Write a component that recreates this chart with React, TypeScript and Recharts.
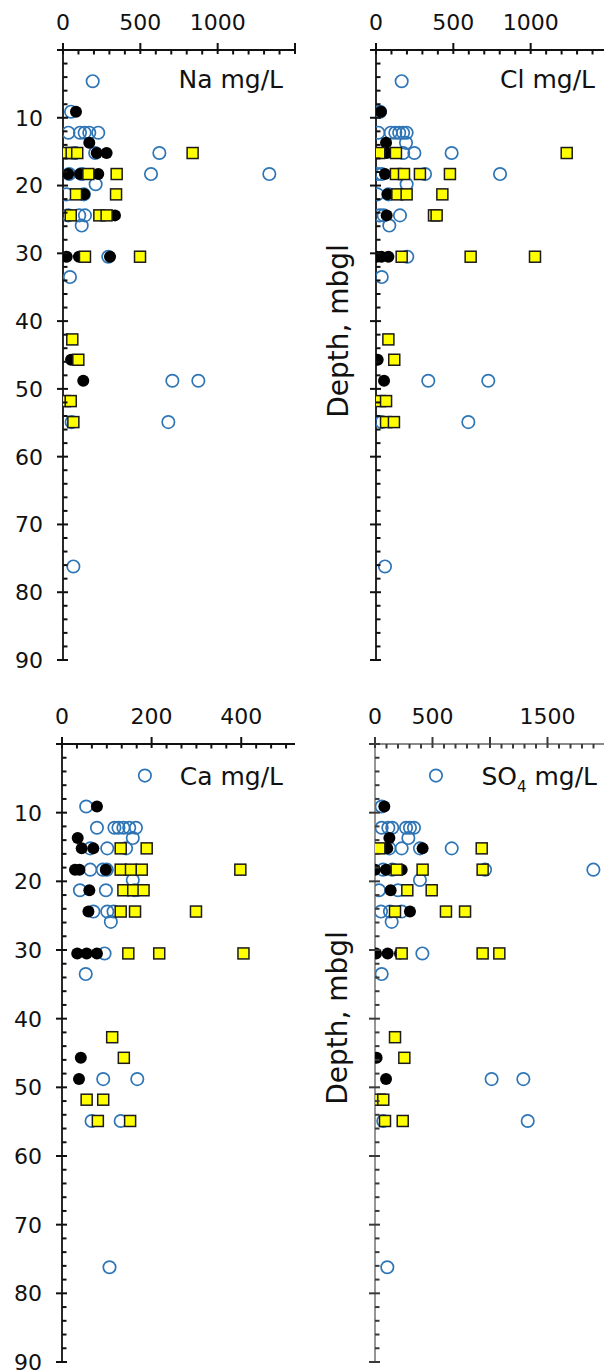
import React from "react";
import { ScatterChart, Scatter, XAxis, YAxis } from "recharts";

const FONT = "'DejaVu Sans', 'Liberation Sans', sans-serif";
const BLUE = "#2e75b6";
const YELLOW = "#ffff00";
const INK = "#111111";

type Pt = [number, number]; // [concentration mg/L, depth m]

// Na
const NA_OPEN: Pt[] = [
  [192, 4.6], [52, 9.1], [35, 12.2], [110, 12.2], [140, 12.2], [170, 12.2], [228, 12.2],
  [78, 15.2], [208, 15.2], [623, 15.2], [40, 18.3], [120, 18.3], [569, 18.3], [1334, 18.3],
  [211, 19.8], [24, 21.3], [135, 21.3], [34, 24.4], [105, 24.4], [142, 24.4], [121, 25.9],
  [293, 30.5], [45, 33.5], [707, 48.8], [875, 48.8], [56, 54.9], [681, 54.9], [67, 76.2],
];
const NA_SOLID: Pt[] = [
  [84, 9.1], [170, 13.7], [218, 15.2], [282, 15.2], [34, 18.3], [110, 18.3], [228, 18.3],
  [138, 21.3], [336, 24.4], [24, 30.5], [103, 30.5], [304, 30.5], [52, 45.7], [131, 48.8],
];
const NA_SQUARE: Pt[] = [
  [19, 15.2], [56, 15.2], [92, 15.2], [838, 15.2], [164, 18.3], [347, 18.3], [84, 21.3],
  [343, 21.3], [50, 24.4], [235, 24.4], [282, 24.4], [142, 30.5], [498, 30.5], [60, 42.7],
  [99, 45.7], [13, 51.8], [50, 51.8], [67, 54.9],
];

// Cl
const CL_OPEN: Pt[] = [
  [166, 4.6], [26, 9.1], [15, 12.2], [95, 12.2], [125, 12.2], [150, 12.2], [175, 12.2],
  [198, 12.2], [194, 13.7], [176, 15.2], [248, 15.2], [489, 15.2], [9, 18.3], [37, 18.3],
  [317, 18.3], [802, 18.3], [198, 19.8], [9, 21.3], [80, 21.3], [26, 24.4], [50, 24.4],
  [155, 24.4], [86, 25.9], [202, 30.5], [37, 33.5], [338, 48.8], [726, 48.8], [37, 54.9],
  [597, 54.9], [58, 76.2],
];
const CL_SOLID: Pt[] = [
  [32, 9.1], [65, 13.7], [69, 15.2], [58, 18.3], [75, 21.3], [69, 24.4], [5, 30.5],
  [35, 30.5], [80, 30.5], [11, 45.7], [52, 48.8],
];
const CL_SQUARE: Pt[] = [
  [21, 15.2], [129, 15.2], [1233, 15.2], [129, 18.3], [181, 18.3], [284, 18.3], [478, 18.3],
  [138, 21.3], [198, 21.3], [429, 21.3], [375, 24.4], [392, 24.4], [166, 30.5], [612, 30.5],
  [1028, 30.5], [80, 42.7], [118, 45.7], [26, 51.8], [65, 51.8], [65, 54.9], [116, 54.9],
];

// Ca
const CA_OPEN: Pt[] = [
  [185, 4.6], [54, 9.1], [78, 12.2], [117, 12.2], [126, 12.2], [137, 12.2], [150, 12.2],
  [165, 12.2], [158, 13.7], [63, 15.2], [101, 15.2], [143, 15.2], [63, 18.3], [91, 18.3],
  [100, 18.3], [158, 19.8], [40, 21.3], [98, 21.3], [162, 21.3], [70, 24.4], [101, 24.4],
  [115, 24.4], [109, 25.9], [95, 30.5], [53, 33.5], [92, 48.8], [168, 48.8], [66, 54.9],
  [131, 54.9], [106, 76.2],
];
const CA_SOLID: Pt[] = [
  [78, 9.1], [35, 13.7], [44, 15.2], [70, 15.2], [29, 18.3], [39, 18.3], [98, 18.3],
  [61, 21.3], [59, 24.4], [34, 30.5], [55, 30.5], [78, 30.5], [42, 45.7], [38, 48.8],
];
const CA_SQUARE: Pt[] = [
  [131, 15.2], [189, 15.2], [131, 18.3], [154, 18.3], [178, 18.3], [398, 18.3], [137, 21.3],
  [159, 21.3], [182, 21.3], [131, 24.4], [163, 24.4], [299, 24.4], [148, 30.5], [217, 30.5],
  [405, 30.5], [112, 42.7], [138, 45.7], [55, 51.8], [92, 51.8], [80, 54.9], [152, 54.9],
];

// SO4
const SO4_OPEN: Pt[] = [
  [530, 4.6], [58, 9.1], [58, 12.2], [116, 12.2], [150, 12.2], [270, 12.2], [304, 12.2],
  [339, 12.2], [290, 13.7], [125, 15.2], [232, 15.2], [391, 15.2], [667, 15.2], [70, 18.3],
  [150, 18.3], [957, 18.3], [1899, 18.3], [391, 19.8], [35, 21.3], [200, 21.3], [52, 24.4],
  [130, 24.4], [232, 24.4], [145, 25.9], [412, 30.5], [58, 33.5], [1014, 48.8], [1290, 48.8],
  [72, 54.9], [1328, 54.9], [107, 76.2],
];
const SO4_SOLID: Pt[] = [
  [81, 9.1], [125, 13.7], [107, 15.2], [414, 15.2], [0, 18.3], [96, 18.3], [232, 18.3],
  [136, 21.3], [304, 24.4], [9, 30.5], [110, 30.5], [217, 30.5], [14, 45.7], [96, 48.8],
];
const SO4_SQUARE: Pt[] = [
  [38, 15.2], [928, 15.2], [188, 18.3], [414, 18.3], [936, 18.3], [281, 21.3], [493, 21.3],
  [174, 24.4], [617, 24.4], [783, 24.4], [232, 30.5], [936, 30.5], [1081, 30.5], [174, 42.7],
  [255, 45.7], [43, 51.8], [72, 51.8], [87, 54.9], [241, 54.9],
];

// axis ticks
const DEPTH_MAJOR = [0, 10, 20, 30, 40, 50, 60, 70, 80, 90];
const DEPTH_LABELS = [10, 20, 30, 40, 50, 60, 70, 80, 90];
const NA_MAJOR = [0, 500, 1000, 1500];
const NA_LABELS = [0, 500, 1000];
const CL_MAJOR = [0, 500, 1000, 1500];
const CL_LABELS = [0, 500, 1000];
const CA_MAJOR = [0, 200, 400];
const CA_LABELS = [0, 200, 400];
const SO4_MAJOR = [0, 500, 1000, 1500, 2000];
const SO4_LABELS = [0, 500, 1500];

const steps = (max: number, step: number) =>
  Array.from({ length: Math.floor(max / step + 1e-6) + 1 }, (_, i) => +(i * step).toFixed(4));

const isIn = (list: number[], v: number) => list.some((m) => Math.abs(m - v) < 1e-3);

const rows = (pts: Pt[]) => pts.map(([v, d]) => ({ v, d }));

const OpenDot = (p: any) => (
  <circle cx={p.cx} cy={p.cy} r={6.2} fill="none" stroke={BLUE} strokeWidth={1.7} />
);
const SolidDot = (p: any) => <circle cx={p.cx} cy={p.cy} r={6} fill="#000" />;
const SquareDot = (p: any) => (
  <rect x={p.cx - 5.5} y={p.cy - 5.5} width={11} height={11} fill={YELLOW} stroke="#1a1a1a" strokeWidth={1.5} />
);

// major ticks cross the axis line, minor ticks point into the plot
const makeXTick = (majors: number[], labels: number[], color: string) => (props: any) => {
  const x = Number(props.x);
  const y = Number(props.y);
  const v = props.payload.value;
  const major = isIn(majors, v);
  return (
    <g>
      <path
        d={major ? `M${x},${y - 7}V${y + 4}` : `M${x},${y}V${y + 4.5}`}
        stroke={color}
        strokeWidth={2}
        fill="none"
      />
      {major && isIn(labels, v) && (
        <text x={x} y={y - 20} textAnchor="middle" fontSize={22} fontFamily={FONT} fill={INK}>
          {Math.round(v)}
        </text>
      )}
    </g>
  );
};

const makeYTick = (labels: number[], color: string) => (props: any) => {
  const x = Number(props.x);
  const y = Number(props.y);
  const v = props.payload.value;
  const major = isIn(DEPTH_MAJOR, v);
  return (
    <g>
      <path
        d={major ? `M${x - 6},${y}H${x + 5}` : `M${x},${y}H${x + 4.5}`}
        stroke={color}
        strokeWidth={2}
        fill="none"
      />
      {major && isIn(labels, v) && (
        <text x={x - 20} y={y} dy="0.36em" textAnchor="end" fontSize={22} fontFamily={FONT} fill={INK}>
          {v}
        </text>
      )}
    </g>
  );
};

const DepthTitle = ({ viewBox, shift }: any) => {
  const x = viewBox.x + viewBox.width - 28;
  const y = viewBox.y + viewBox.height / 2 + shift;
  return (
    <text x={x} y={y} transform={`rotate(-90, ${x}, ${y})`} textAnchor="middle" fontSize={28} fontFamily={FONT} fill={INK}>
      Depth, mbgl
    </text>
  );
};

interface PanelProps {
  left: number;
  top: number;
  width: number;
  height: number;
  yAxisWidth: number;
  marginRight: number;
  marginBottom: number;
  xMax: number;
  xMinor: number;
  xMajor: number[];
  xLabels: number[];
  yLabels: number[];
  color: string;
  tickColor: string;
  open: Pt[];
  solid: Pt[];
  square: Pt[];
  depthShift?: number;
}

function Panel(p: PanelProps) {
  return (
    <div style={{ position: "absolute", left: p.left, top: p.top }}>
      <ScatterChart
        width={p.width}
        height={p.height}
        margin={{ top: 0, left: 0, right: p.marginRight, bottom: p.marginBottom }}
      >
        <XAxis
          type="number"
          dataKey="v"
          orientation="top"
          height={50}
          domain={[0, p.xMax]}
          ticks={steps(p.xMax, p.xMinor)}
          interval={0}
          tickSize={0}
          tickMargin={0}
          tickLine={false}
          axisLine={{ stroke: p.color, strokeWidth: 1.8 }}
          tick={makeXTick(p.xMajor, p.xLabels, p.tickColor)}
          allowDataOverflow
        />
        <YAxis
          type="number"
          dataKey="d"
          reversed
          width={p.yAxisWidth}
          domain={[0, 90]}
          ticks={steps(90, 2)}
          interval={0}
          tickSize={0}
          tickMargin={0}
          tickLine={false}
          axisLine={{ stroke: p.color, strokeWidth: 1.8 }}
          tick={makeYTick(p.yLabels, p.tickColor)}
          label={
            p.depthShift !== undefined
              ? { content: (lp: any) => <DepthTitle {...lp} shift={p.depthShift} /> }
              : undefined
          }
        />
        <Scatter data={rows(p.open)} shape={OpenDot} isAnimationActive={false} />
        <Scatter data={rows(p.solid)} shape={SolidDot} isAnimationActive={false} />
        <Scatter data={rows(p.square)} shape={SquareDot} isAnimationActive={false} />
      </ScatterChart>
    </div>
  );
}

const titleStyle = { fontSize: 25, fontFamily: FONT, fill: INK } as const;

export default function App() {
  return (
    <div
      style={{
        position: "absolute",
        left: 0,
        top: 0,
        width: 604,
        height: 1372,
        overflow: "hidden",
        background: "#fff",
      }}
    >
      <Panel
        left={0} top={0} width={310} height={680} yAxisWidth={63} marginRight={15} marginBottom={20}
        xMax={1500} xMinor={100} xMajor={NA_MAJOR} xLabels={NA_LABELS} yLabels={DEPTH_LABELS}
        color="#111" tickColor="#111" open={NA_OPEN} solid={NA_SOLID} square={NA_SQUARE}
      />
      <Panel
        left={300} top={0} width={320} height={680} yAxisWidth={76} marginRight={12} marginBottom={20}
        xMax={1500} xMinor={100} xMajor={CL_MAJOR} xLabels={CL_LABELS} yLabels={[]}
        color="#111" tickColor="#111" open={CL_OPEN} solid={CL_SOLID} square={CL_SQUARE} depthShift={-24}
      />
      <Panel
        left={0} top={694} width={310} height={678} yAxisWidth={62} marginRight={15} marginBottom={10}
        xMax={520} xMinor={200 / 6} xMajor={CA_MAJOR} xLabels={CA_LABELS} yLabels={DEPTH_LABELS}
        color="#111" tickColor="#111" open={CA_OPEN} solid={CA_SOLID} square={CA_SQUARE}
      />
      <Panel
        left={300} top={694} width={320} height={678} yAxisWidth={75} marginRight={15} marginBottom={10}
        xMax={2000} xMinor={100} xMajor={SO4_MAJOR} xLabels={SO4_LABELS} yLabels={[]}
        color="#8a8a8a" tickColor="#3a3a3a" open={SO4_OPEN} solid={SO4_SOLID} square={SO4_SQUARE} depthShift={-35}
      />
      <svg width={604} height={1372} style={{ position: "absolute", left: 0, top: 0, pointerEvents: "none" }}>
        <text x={283} y={88} textAnchor="end" {...titleStyle}>Na mg/L</text>
        <text x={595} y={88} textAnchor="end" {...titleStyle}>Cl mg/L</text>
        <text x={283} y={785} textAnchor="end" {...titleStyle}>Ca mg/L</text>
        <text x={597} y={785} textAnchor="end" {...titleStyle}>
          SO<tspan fontSize={15} dy={7}>4</tspan>
          <tspan dy={-7}> mg/L</tspan>
        </text>
      </svg>
    </div>
  );
}
